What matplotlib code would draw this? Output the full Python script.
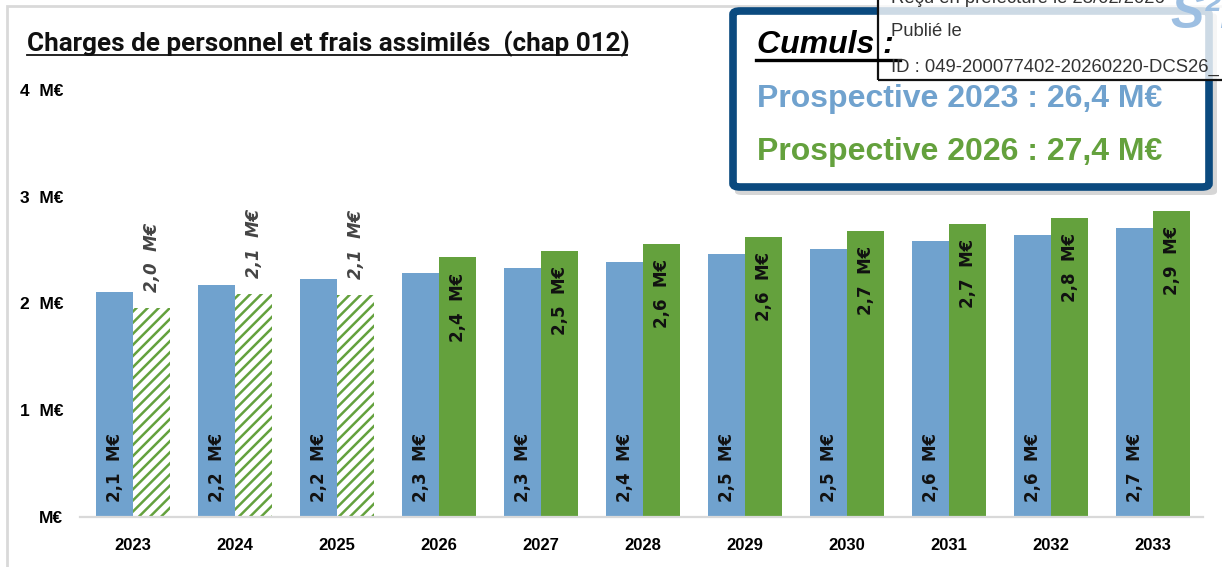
import matplotlib
matplotlib.use("Agg")
import matplotlib.pyplot as plt
from matplotlib.patches import Rectangle, FancyBboxPatch
from matplotlib.lines import Line2D
import numpy as np

W, H = 1222, 567

years = ["2023", "2024", "2025", "2026", "2027", "2028", "2029", "2030", "2031", "2032", "2033"]
prosp_2023 = [2.11, 2.17, 2.23, 2.28, 2.33, 2.39, 2.46, 2.51, 2.58, 2.64, 2.71]
prosp_2026 = [1.96, 2.09, 2.08, 2.43, 2.49, 2.56, 2.62, 2.68, 2.74, 2.80, 2.87]
realised = [True, True, True, False, False, False, False, False, False, False, False]
y_ticks = [0, 1, 2, 3, 4]
y_tick_labels = ["M€", "1  M€", "2  M€", "3  M€", "4  M€"]
cumul_2023 = "26,4"
cumul_2026 = "27,4"

BLUE = "#70A2CE"
GREEN = "#64A13D"
plt.rcParams["hatch.linewidth"] = 1.8


def px(x, y):
    return x / W, 1 - y / H


def fmt(v):
    return f"{v:.1f}".replace(".", ",") + "  M€"


fig = plt.figure(figsize=(W / 100, H / 100), dpi=100)
fig.patch.set_facecolor("white")

# outer chart frame
fig.add_artist(Rectangle(px(7, 600), 1300 / W, 594 / H, transform=fig.transFigure,
                         fill=False, edgecolor="#D9D9D9", linewidth=2))

ax = fig.add_axes([80 / W, 1 - 516.7 / H, (1203 - 80) / W, (516.7 - 90) / H])
x = np.arange(len(years))
w = 0.363

ax.bar(x - w / 2, prosp_2023, w, color=BLUE, linewidth=0)
for i, v in enumerate(prosp_2026):
    if realised[i]:
        ax.bar(x[i] + w / 2, v, w, facecolor="white", edgecolor=GREEN, hatch="///", linewidth=0)
    else:
        ax.bar(x[i] + w / 2, v, w, color=GREEN, linewidth=0)

lab_font = ["DejaVu Sans"]
for i, v in enumerate(prosp_2023):
    ax.text(x[i] - w / 2, 0.14, fmt(v), rotation=90, ha="center", va="bottom",
            fontsize=12, fontweight="bold", family=lab_font, color="#111111")
for i, v in enumerate(prosp_2026):
    if realised[i]:
        ax.text(x[i] + w / 2, v + 0.15, fmt(v), rotation=90, ha="center", va="bottom",
                fontsize=12, fontweight="bold", fontstyle="italic", family=lab_font, color="#444444")
    else:
        ax.text(x[i] + w / 2, v - 0.14, fmt(v), rotation=90, ha="center", va="top",
                fontsize=12, fontweight="bold", family=lab_font, color="#111111")

ax.set_xlim(-0.52, 10.49)
ax.set_ylim(0, 4)
ax.set_yticks(y_ticks)
ax.set_yticklabels(y_tick_labels, fontsize=12.5, fontweight="bold", family=["Liberation Sans", "DejaVu Sans"])
ax.set_xticks(x)
ax.set_xticklabels(years, fontsize=12, fontweight="bold", family=["Liberation Sans", "DejaVu Sans"])
ax.tick_params(axis="y", length=0, pad=12)
ax.tick_params(axis="x", length=0, pad=15)
for s in ["top", "right", "left"]:
    ax.spines[s].set_visible(False)
ax.spines["bottom"].set_color("#D9D9D9")
ax.spines["bottom"].set_linewidth(1.6)
ax.set_facecolor("none")

# title
fig.text(*px(27, 51), "Charges de personnel et frais assimilés  (chap 012)", ha="left", va="baseline",
         fontsize=18.7, fontweight="bold", family=["Roboto", "DejaVu Sans"], color="#111111")
fig.add_artist(Line2D([27 / W, 627 / W], [1 - 55 / H] * 2, transform=fig.transFigure, color="#111111", linewidth=1.3))

# cumuls box
fig.add_artist(FancyBboxPatch(px(735, 195), (1217 - 735) / W, (195 - 13) / H, transform=fig.transFigure,
                              boxstyle="round,pad=0,rounding_size=0.006", facecolor="#BBBBBB",
                              edgecolor="none", alpha=0.6))
fig.add_artist(FancyBboxPatch(px(733, 187), (1209 - 733) / W, (187 - 11) / H, transform=fig.transFigure,
                              boxstyle="round,pad=0,rounding_size=0.006", facecolor="white",
                              edgecolor="#0B4A7F", linewidth=5.5))
fig.text(*px(757, 53), "Cumuls :", ha="left", va="baseline", fontsize=23, fontweight="bold",
         fontstyle="italic", family=["Liberation Sans", "DejaVu Sans"], color="black")
fig.add_artist(Line2D([756 / W, 900 / W], [1 - 60 / H] * 2, transform=fig.transFigure, color="black", linewidth=2.4))
fig.text(*px(757, 107), f"Prospective 2023 : {cumul_2023} M€", ha="left", va="baseline", fontsize=23,
         fontweight="bold", family=["Liberation Sans", "DejaVu Sans"], color=BLUE)
fig.text(*px(757, 160), f"Prospective 2026 : {cumul_2026} M€", ha="left", va="baseline", fontsize=23,
         fontweight="bold", family=["Liberation Sans", "DejaVu Sans"], color=GREEN)

# logo
fig.text(*px(1170, 28), "S²LO", ha="left", va="baseline", fontsize=36, fontweight="bold",
         fontstyle="italic", family=["Liberation Sans", "DejaVu Sans"], color="#9DBFE2")

# stamp
fig.add_artist(Rectangle(px(878, 80), 400 / W, 120 / H, transform=fig.transFigure,
                         facecolor="white", alpha=0.8, edgecolor="none"))
fig.add_artist(Rectangle(px(878, 80), 400 / W, 120 / H, transform=fig.transFigure,
                         fill=False, edgecolor="#111111", linewidth=1.6))
stamp_font = ["Liberation Sans", "DejaVu Sans"]
fig.text(*px(891, 3), "Reçu en préfecture le 23/02/2026", ha="left", va="baseline", fontsize=13.3,
         family=stamp_font, color="#333333")
fig.text(*px(891, 36), "Publié le", ha="left", va="baseline", fontsize=13.3, family=stamp_font, color="#333333")
fig.text(*px(891, 72), "ID : 049-200077402-20260220-DCS26_", ha="left", va="baseline", fontsize=13.3,
         family=stamp_font, color="#333333")

fig.savefig("out.png", dpi=100, facecolor="white")
